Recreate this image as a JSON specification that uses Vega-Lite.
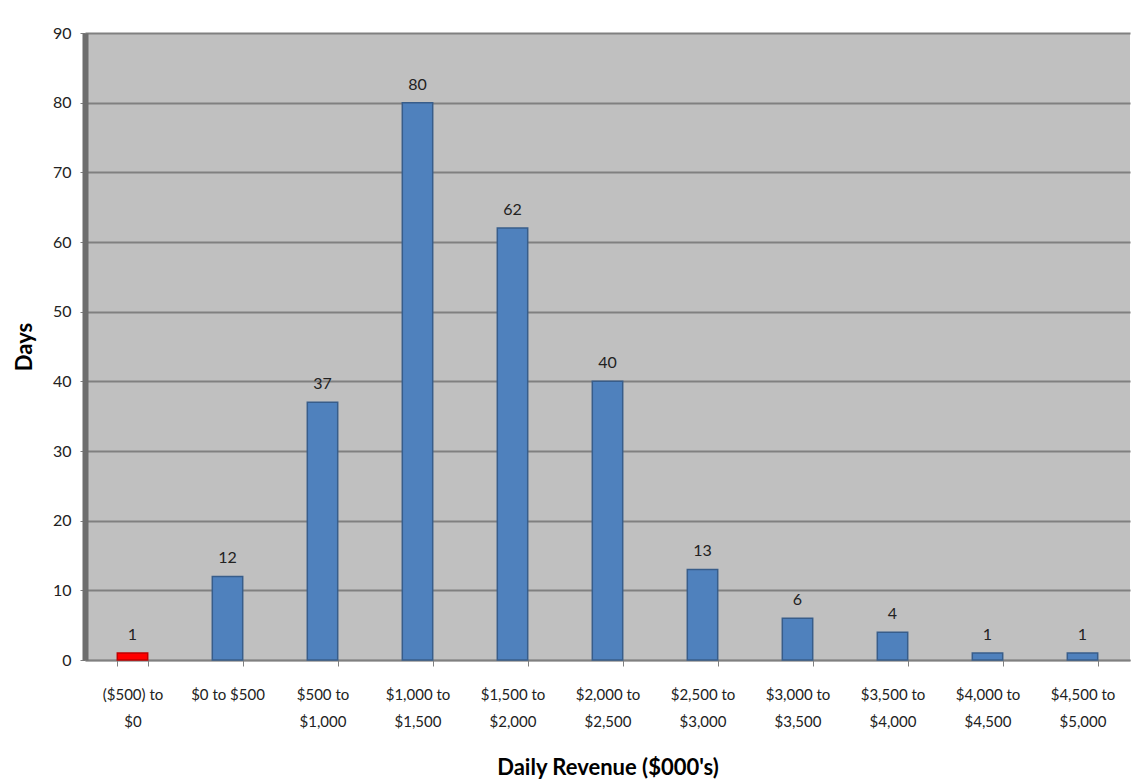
{
  "$schema": "https://vega.github.io/schema/vega-lite/v6.json",
  "autosize": {"type": "none"},
  "width": 1045,
  "height": 627,
  "padding": {"left": 85, "top": 33, "right": 11, "bottom": 122},
  "background": "#ffffff",
  "config": {
    "view": {"fill": "#C0C0C0", "stroke": null},
    "font": "Lato"
  },
  "data": {
    "values": [
      {"range": "($500) to $0", "days": 1, "neg": "yes"},
      {"range": "$0 to $500", "days": 12, "neg": "no"},
      {"range": "$500 to $1,000", "days": 37, "neg": "no"},
      {"range": "$1,000 to $1,500", "days": 80, "neg": "no"},
      {"range": "$1,500 to $2,000", "days": 62, "neg": "no"},
      {"range": "$2,000 to $2,500", "days": 40, "neg": "no"},
      {"range": "$2,500 to $3,000", "days": 13, "neg": "no"},
      {"range": "$3,000 to $3,500", "days": 6, "neg": "no"},
      {"range": "$3,500 to $4,000", "days": 4, "neg": "no"},
      {"range": "$4,000 to $4,500", "days": 1, "neg": "no"},
      {"range": "$4,500 to $5,000", "days": 1, "neg": "no"}
    ]
  },
  "encoding": {
    "x": {
      "field": "range",
      "type": "nominal",
      "sort": null,
      "scale": {"paddingInner": 0.68, "paddingOuter": 0.34},
      "axis": {
        "title": "Daily Revenue ($000's)",
        "titleFont": "Lato",
        "titleFontSize": 22,
        "titleFontWeight": "bold",
        "titleColor": "#000000",
        "titlePadding": 28,
        "labelAngle": 0,
        "labelFont": "Lato",
        "labelFontSize": 15,
        "labelColor": "#222222",
        "labelPadding": 21,
        "labelLineHeight": 27,
        "labelExpr": "datum.label == '$0 to $500' ? datum.label : split(replace(datum.label, ' to ', ' to|'), '|')",
        "tickBand": "extent",
        "tickColor": "#808080",
        "tickSize": 6,
        "domainColor": "#808080",
        "domainWidth": 1.5,
        "grid": false
      }
    },
    "y": {
      "field": "days",
      "type": "quantitative",
      "scale": {"domain": [0, 90]},
      "axis": {
        "title": "Days",
        "titleFont": "Lato",
        "titleFontSize": 22,
        "titleFontWeight": "bold",
        "titleColor": "#000000",
        "titlePadding": 16,
        "values": [0, 10, 20, 30, 40, 50, 60, 70, 80, 90],
        "labelFont": "Lato",
        "labelFontSize": 16,
        "labelColor": "#222222",
        "labelPadding": 9,
        "tickColor": "#808080",
        "tickSize": 5,
        "domainColor": "#6d6d6d",
        "domainWidth": 6,
        "grid": true,
        "gridColor": "#808080",
        "gridWidth": 2
      }
    }
  },
  "layer": [
    {
      "mark": {"type": "bar", "strokeWidth": 1.5},
      "encoding": {
        "color": {
          "field": "neg",
          "type": "nominal",
          "scale": {"domain": ["yes", "no"], "range": ["#FF0000", "#4F81BD"]},
          "legend": null
        },
        "stroke": {
          "field": "neg",
          "type": "nominal",
          "scale": {"domain": ["yes", "no"], "range": ["#C00000", "#385D8A"]},
          "legend": null
        }
      }
    },
    {
      "mark": {"type": "text", "dy": -18, "fontSize": 16, "font": "Lato", "color": "#222222"},
      "encoding": {"text": {"field": "days", "type": "quantitative"}}
    }
  ]
}
